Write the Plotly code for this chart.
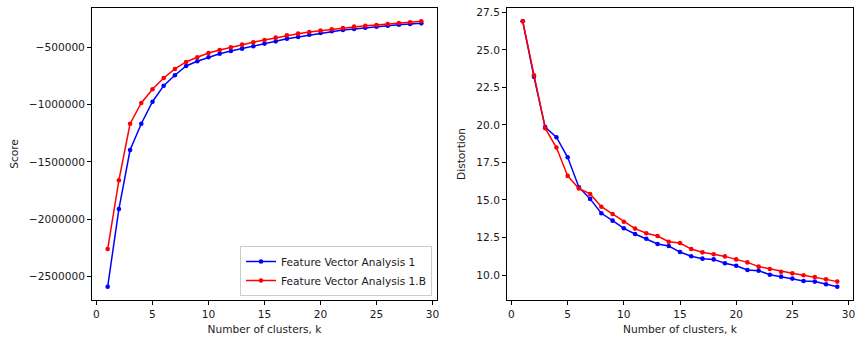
import plotly.graph_objects as go
from plotly.subplots import make_subplots

# Number of clusters tried
k_values = list(range(1, 30))

# Clustering score for each feature vector analysis
score_fva1 = [-2589000, -1911000, -1396000, -1167000, -975000, -835000, -744000,
              -663000, -622000, -587000, -556000, -532000, -512000, -491000,
              -468000, -448000, -425000, -410000, -390000, -375000, -360000,
              -349000, -340000, -329000, -320000, -312000, -303000, -297000,
              -291000]
score_fva1b = [-2260000, -1661000, -1167000, -986000, -866000, -768000, -689000,
               -628000, -587000, -550000, -524000, -500000, -477000, -456000,
               -436000, -416000, -395000, -381000, -366000, -355000, -343000,
               -332000, -320000, -312000, -305000, -297000, -288000, -282000,
               -273000]

# Distortion for each feature vector analysis
dist_fva1 = [26.9, 23.2, 19.85, 19.18, 17.84, 15.85, 15.07, 14.11, 13.62, 13.11,
             12.73, 12.42, 12.07, 11.93, 11.53, 11.25, 11.09, 11.04, 10.78, 10.62,
             10.33, 10.29, 10.02, 9.89, 9.76, 9.60, 9.56, 9.38, 9.22]
dist_fva1b = [26.9, 23.3, 19.78, 18.49, 16.6, 15.76, 15.4, 14.55, 14.06, 13.55,
              13.09, 12.78, 12.6, 12.22, 12.13, 11.73, 11.51, 11.38, 11.24, 11.04,
              10.84, 10.56, 10.4, 10.22, 10.11, 9.98, 9.87, 9.71, 9.56]

series_names = ["Feature Vector Analysis 1", "Feature Vector Analysis 1.B"]
series_colors = ["#0000ff", "#ff0000"]

FONT = "DejaVu Sans"
FSIZE = 10.6
TXT = "#1a1a1a"
W, H = 855, 340


def padded(lo, hi, frac=0.05):
    span = hi - lo
    return [lo - frac * span, hi + frac * span]


fig = make_subplots(rows=1, cols=2)

for name, color, sc, ds in zip(series_names, series_colors,
                               [score_fva1, score_fva1b],
                               [dist_fva1, dist_fva1b]):
    fig.add_trace(go.Scatter(x=k_values, y=sc, mode="lines+markers", name=name,
                             line=dict(color=color, width=1.5),
                             marker=dict(color=color, size=4.6)),
                  row=1, col=1)
    fig.add_trace(go.Scatter(x=k_values, y=ds, mode="lines+markers", name=name,
                             showlegend=False,
                             line=dict(color=color, width=1.5),
                             marker=dict(color=color, size=4.6)),
                  row=1, col=2)

all_scores = score_fva1 + score_fva1b
all_dist = dist_fva1 + dist_fva1b
x_range = padded(min(k_values), max(k_values))

font_main = dict(family=FONT, size=FSIZE, color=TXT)

axis_common = dict(showline=True, mirror=True, linecolor="black", linewidth=1,
                   ticks="outside", ticklen=4, tickcolor="black", tickwidth=1,
                   showgrid=False, zeroline=False, automargin=False,
                   ticklabeloverflow="allow", tickfont=font_main)

x_left = [92 / W, 437 / W]
x_right = [507 / W, 853 / W]
y_dom = [1 - 300 / H, 1 - 8 / H]

fig.update_xaxes(**axis_common, range=x_range, dtick=5, tick0=0,
                 title=dict(text="Number of clusters, k", font=font_main,
                            standoff=6))
fig.update_xaxes(domain=x_left, row=1, col=1)
fig.update_xaxes(domain=x_right, row=1, col=2)

fig.update_yaxes(**axis_common, domain=y_dom)
fig.update_yaxes(range=padded(min(all_scores), max(all_scores)), dtick=500000,
                 tick0=0, tickformat="d",
                 title=dict(text="Score", font=font_main, standoff=8),
                 row=1, col=1)
fig.update_yaxes(range=padded(min(all_dist), max(all_dist)), dtick=2.5, tick0=0,
                 tickformat=".1f",
                 title=dict(text="Distortion", font=font_main, standoff=8),
                 row=1, col=2)

fig.update_layout(
    width=W, height=H,
    margin=dict(l=0, r=0, t=0, b=0),
    paper_bgcolor="white", plot_bgcolor="white",
    font=font_main,
    legend=dict(x=432 / W, xanchor="right", y=1 - 296 / H, yanchor="bottom",
                bgcolor="rgba(255,255,255,0.8)", bordercolor="#cccccc",
                borderwidth=1, font=font_main,
                tracegroupgap=0, itemwidth=30),
)

fig.write_html("out.html")
